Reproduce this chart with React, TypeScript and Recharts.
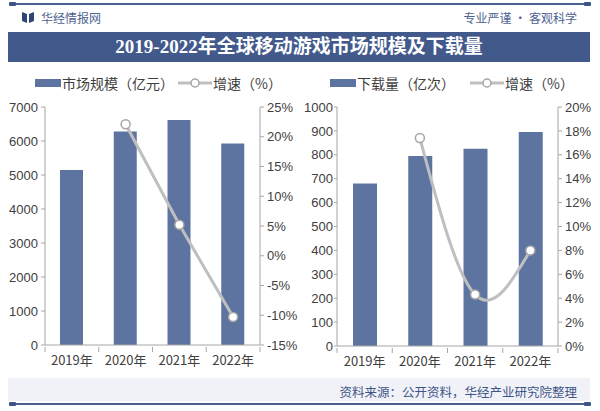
import { ComposedChart, Bar, Line, XAxis, YAxis } from 'recharts';

const years = ['2019年', '2020年', '2021年', '2022年'];
const marketSize = [5150, 6280, 6620, 5930];
const marketGrowth = [null, 22.1, 5.2, -10.3];
const downloads = [680, 795, 825, 895];
const downloadGrowth = [null, 17.4, 4.3, 8.0];

const sizeTicks = [0, 1000, 2000, 3000, 4000, 5000, 6000, 7000];
const sizeGrowthTicks = [-15, -10, -5, 0, 5, 10, 15, 20, 25];
const downloadTicks = [0, 100, 200, 300, 400, 500, 600, 700, 800, 900, 1000];
const downloadGrowthTicks = [0, 2, 4, 6, 8, 10, 12, 14, 16, 18, 20];

const BAR = '#5D74A1';
const LINE = '#BFBFBF';
const AXIS = '#A6A6A6';
const TEXT = '#404040';
const BRAND = '#42598C';
const CN = '"Noto Sans CJK SC", "Liberation Sans", sans-serif';
const NUM = '"Liberation Sans", Arial, sans-serif';

const leftData = years.map((y, i) => ({ year: y, value: marketSize[i], growth: marketGrowth[i] }));
const rightData = years.map((y, i) => ({ year: y, value: downloads[i], growth: downloadGrowth[i] }));

const pct = (v: number) => `${v}%`;
const tickStyle = { fill: TEXT, fontSize: 13, fontFamily: NUM };

// x tick: label at the band centre, tick marks on band edges
const makeXTick = (bandWidth: number) => (props: any) => {
  const { x, y, payload, index } = props;
  const half = bandWidth / 2;
  return (
    <g>
      <line x1={x - half} y1={y} x2={x - half} y2={y + 5} stroke={AXIS} />
      {index === years.length - 1 && <line x1={x + half} y1={y} x2={x + half} y2={y + 5} stroke={AXIS} />}
      <text x={x} y={y + 9} dy="0.71em" textAnchor="middle" fill={TEXT} fontSize={13} fontFamily={CN}>
        {payload.value}
      </text>
    </g>
  );
};

const LegendRow = ({ left, barLabel, lineLeft }: { left: number; barLabel: string; lineLeft: number }) => (
  <div style={{ position: 'absolute', top: 74, left: 0, width: 300, height: 18, fontFamily: CN, fontSize: 14, color: TEXT }}>
    <div style={{ position: 'absolute', left, top: 5, width: 26, height: 8, background: BAR }} />
    <div style={{ position: 'absolute', left: left + 27, top: 0, lineHeight: '18px', whiteSpace: 'nowrap' }}>{barLabel}</div>
    <svg style={{ position: 'absolute', left: lineLeft, top: 3 }} width={36} height={12}>
      <line x1={1} y1={6} x2={35} y2={6} stroke={LINE} strokeWidth={3} />
      <circle cx={18} cy={6} r={4} fill="#fff" stroke={AXIS} strokeWidth={1.5} />
    </svg>
    <div style={{ position: 'absolute', left: lineLeft + 36, top: 0, lineHeight: '18px', whiteSpace: 'nowrap' }}>增速（%）</div>
  </div>
);

const EndLine = ({ top }: { top: number }) => (
  <div style={{ position: 'absolute', left: 9, top, width: 582, height: 4 }}>
    <div style={{ position: 'absolute', left: 0, top: 1, width: 582, height: 1.5, background: '#4B6192' }} />
    <div style={{ position: 'absolute', left: 0, top: 0, width: 7, height: 4, background: '#3C5588', borderRadius: 1 }} />
    <div style={{ position: 'absolute', right: 0, top: 0, width: 7, height: 4, background: '#3C5588', borderRadius: 1 }} />
  </div>
);

export default function App() {
  return (
    <div style={{ position: 'absolute', left: 0, top: 0, width: 600, height: 411, background: '#fff', overflow: 'hidden' }}>
      <EndLine top={2} />

      {/* header */}
      <svg style={{ position: 'absolute', left: 22, top: 12 }} width={12} height={11}>
        <path d="M0 0 L5 2 L5 11 L0 9 Z" fill="#2F4575" />
        <path d="M12 0 L7 2 L7 11 L12 9 Z" fill="#2F4575" />
      </svg>
      <div style={{ position: 'absolute', left: 41, top: 9, fontFamily: CN, fontSize: 12, lineHeight: '17px', color: '#4F6391' }}>华经情报网</div>
      <div style={{ position: 'absolute', right: 23, top: 9, fontFamily: CN, fontSize: 12, lineHeight: '17px', color: '#4F6391' }}>专业严谨 • 客观科学</div>

      {/* title */}
      <div
        style={{
          position: 'absolute', left: 8, top: 32, width: 582, height: 30, background: BRAND,
          color: '#fff', textAlign: 'center', lineHeight: '30px', fontSize: 19, fontWeight: 700,
          fontFamily: '"Liberation Serif", "Noto Sans CJK SC", serif',
        }}
      >
        2019-2022年全球移动游戏市场规模及下载量
      </div>

      {/* left chart */}
      <LegendRow left={35} barLabel="市场规模（亿元）" lineLeft={177} />
      <div style={{ position: 'absolute', left: 0, top: 60 }}>
        <ComposedChart width={300} height={310} data={leftData} margin={{ top: 47, right: 0, bottom: 5, left: 5 }}>
          <XAxis dataKey="year" height={20} stroke={AXIS} tickLine={false} tickSize={0} tick={makeXTick(215 / 4)} interval={0} />
          <YAxis yAxisId="left" width={40} domain={[0, 7000]} ticks={sizeTicks} stroke={AXIS} tickSize={4} tickMargin={3} tick={tickStyle} interval={0} />
          <YAxis yAxisId="right" orientation="right" width={40} domain={[-15, 25]} ticks={sizeGrowthTicks} tickFormatter={pct} stroke={AXIS} tickSize={4} tickMargin={3} tick={tickStyle} interval={0} />
          <Bar yAxisId="left" dataKey="value" fill={BAR} barSize={23} isAnimationActive={false} />
          <Line
            yAxisId="right" type="linear" dataKey="growth" stroke={LINE} strokeWidth={3}
            dot={{ r: 4.5, fill: '#fff', stroke: AXIS, strokeWidth: 1.5 }} activeDot={false} isAnimationActive={false}
          />
        </ComposedChart>
      </div>

      {/* right chart */}
      <LegendRow left={330 - 300 + 300} barLabel="下载量（亿次）" lineLeft={469} />
      <div style={{ position: 'absolute', left: 300, top: 60 }}>
        <ComposedChart width={300} height={310} data={rightData} margin={{ top: 47, right: 0, bottom: 4, left: 0 }}>
          <XAxis dataKey="year" height={20} stroke={AXIS} tickLine={false} tickSize={0} tick={makeXTick(221 / 4)} interval={0} />
          <YAxis yAxisId="left" width={37} domain={[0, 1000]} ticks={downloadTicks} stroke={AXIS} tickSize={3} tickMargin={1} tick={tickStyle} interval={0} />
          <YAxis yAxisId="right" orientation="right" width={42} domain={[0, 20]} ticks={downloadGrowthTicks} tickFormatter={pct} stroke={AXIS} tickSize={4} tickMargin={3} tick={tickStyle} interval={0} />
          <Bar yAxisId="left" dataKey="value" fill={BAR} barSize={24} isAnimationActive={false} />
          <Line
            yAxisId="right" type="natural" dataKey="growth" stroke={LINE} strokeWidth={3}
            dot={{ r: 4.5, fill: '#fff', stroke: AXIS, strokeWidth: 1.5 }} activeDot={false} isAnimationActive={false}
          />
        </ComposedChart>
      </div>

      {/* footer */}
      <div style={{ position: 'absolute', left: 8, top: 378, width: 582, height: 23, background: '#F1F2F8' }} />
      <div style={{ position: 'absolute', right: 23, top: 383, fontFamily: CN, fontSize: 12.5, lineHeight: '18px', color: '#3E5587' }}>
        资料来源：公开资料，华经产业研究院整理
      </div>
      <EndLine top={402} />
    </div>
  );
}
